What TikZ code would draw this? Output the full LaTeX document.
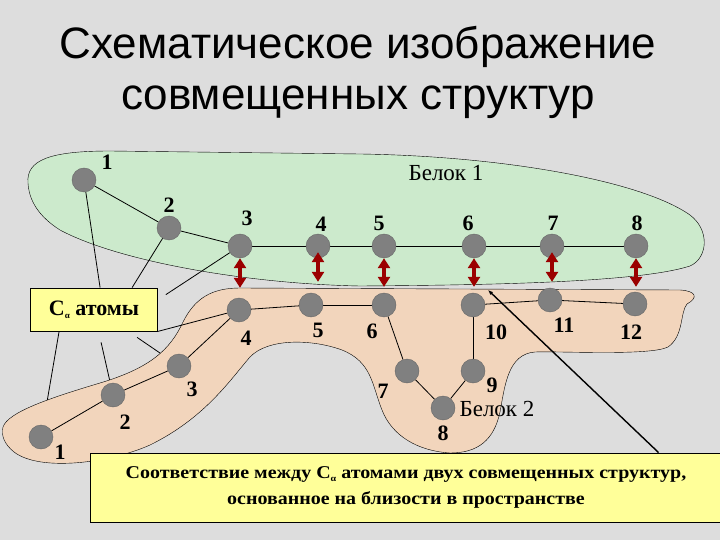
\documentclass[tikz,border=0pt]{standalone}
\usepackage{fontspec}
\setmainfont{Liberation Serif}
\newfontfamily\headfont{Liberation Sans}
\newfontfamily\notefont[FakeStretch=1.11]{Liberation Serif}
\usetikzlibrary{positioning, arrows.meta}

\definecolor{bgGray}{RGB}{221,221,221}
\definecolor{protA}{RGB}{204,234,204}
\definecolor{protB}{RGB}{242,213,188}
\definecolor{noteYellow}{RGB}{255,255,153}
\definecolor{linkRed}{RGB}{155,0,0}
\definecolor{atomGray}{RGB}{128,128,128}

\newcommand{\calpha}{C\raisebox{-3pt}{\fontsize{9}{9}\selectfont α}}

\pgfdeclarelayer{back}
\pgfdeclarelayer{hidden}
\pgfdeclarelayer{regions}
\pgfdeclarelayer{edges}
\pgfsetlayers{back,hidden,regions,edges,main}

\begin{document}
\begin{tikzpicture}[
    x=1pt, y=-1pt,
    atom/.style={circle, draw=black!60, fill=atomGray, minimum size=24pt, inner sep=0pt},
    num/.style={font=\fontsize{22}{22}\selectfont\bfseries, inner sep=0pt},
    prot/.style={font=\fontsize{23}{23}\selectfont, inner sep=0pt},
    chain/.style={black, line width=0.8pt},
    link/.style={{Triangle[width=12pt,length=10pt]}-{Triangle[width=12pt,length=10pt]},
                 line width=4pt, linkRed},
    note/.style={draw=black, line width=0.8pt, fill=noteYellow, align=center,
                 font=\notefont\fontsize{18}{26}\selectfont\bfseries},
    pointer/.style={-{Latex[length=5pt,width=4pt]}, line width=1.4pt},
  ]
    \begin{pgfonlayer}{back}
      \fill[bgGray] (0,0) rectangle (720,540);
    \end{pgfonlayer}
    \useasboundingbox (0,0) rectangle (720,540);

    % title
    \node[font=\headfont\fontsize{44}{51}\selectfont, align=center] (head) at (358,72)
      {Схематическое изображение\\совмещенных структур};

    % protein outlines
    \begin{pgfonlayer}{regions}
      \filldraw[draw=black, fill=protB] (3,427) .. controls (8,412) and (50,398) .. (100,383)
        .. controls (150,368) and (170,350) .. (183,322) .. controls (195,298) and (212,288) .. (240,288)
        -- (680,290) .. controls (697,291) and (698,298) .. (687,304)
        .. controls (680,312) and (684,336) .. (668,347) .. controls (650,356) and (560,351) .. (535,352)
        .. controls (508,354) and (505,385) .. (500,412) .. controls (494,440) and (478,453) .. (450,453)
        .. controls (418,451) and (392,436) .. (382,410) .. controls (372,385) and (372,362) .. (342,350)
        .. controls (312,339) and (268,338) .. (250,357) .. controls (230,380) and (205,418) .. (150,445)
        .. controls (110,463) and (40,472) .. (14,452) .. controls (4,444) and (1,435) .. cycle;
      \filldraw[draw=black, fill=protA] (28,183) .. controls (26,160) and (50,151) .. (110,151)
        -- (360,154) .. controls (500,156) and (640,180) .. (690,215)
        .. controls (710,230) and (708,258) .. (690,266) .. controls (640,282) and (500,285) .. (360,286)
        .. controls (250,284) and (120,262) .. (60,230) .. controls (38,216) and (29,200) .. cycle;
    \end{pgfonlayer}
    \node[prot] (nameA) at (446,173) {Белок 1};
    \node[prot] (nameB) at (497,409) {Белок 2};

    % atoms
    \foreach \i/\x/\y in {1/84/180, 2/169/228, 3/240/246, 4/318/246, 5/384/246,
                          6/474/246, 7/552/246, 8/636/246}
      \node[atom] (t\i) at (\x,\y) {};
    \foreach \i/\x/\y in {1/41/437, 2/113/395, 3/179/366, 4/239/310, 5/311/305, 6/384/305,
                          7/407/371, 8/443/408, 9/473/371, 10/473/305, 11/550/300, 12/635/304}
      \node[atom] (b\i) at (\x,\y) {};

    % atom numbers
    \foreach \i/\x/\y in {1/107/162, 2/169/205, 3/247/218, 4/321/224, 5/379/223,
                          6/468/223, 7/553/223, 8/637/223}
      \node[num] (tn\i) at (\x,\y) {\i};
    \foreach \i/\x/\y in {1/60/452, 2/125/422, 3/192/389, 4/246/338, 5/318/330, 6/372/331,
                          7/383/391, 8/443/433, 9/492/385, 10/496/332, 11/564/325, 12/631/332}
      \node[num] (bn\i) at (\x,\y) {\i};

    % backbones
    \begin{pgfonlayer}{edges}
      \foreach \a/\b in {1/2, 2/3, 3/4, 4/5, 5/6, 6/7, 7/8}
        \draw[chain] (t\a) -- (t\b);
      \foreach \a/\b in {1/2, 2/3, 3/4, 4/5, 5/6, 6/7, 7/8, 8/9, 9/10, 10/11, 11/12}
        \draw[chain] (b\a) -- (b\b);
    \end{pgfonlayer}

    % matched pairs
    \foreach \a/\b/\s/\e in {3/4/0/10, 4/5/-6/11, 5/6/0/6, 6/10/0/6, 7/11/-6/6, 8/12/0/5}
      \draw[link, shorten <=\s pt, shorten >=\e pt] (t\a.south) -- (t\a.south |- b\b.north);

    % C-alpha callout
    \node[note, font=\fontsize{22}{22}\selectfont\bfseries, minimum width=127pt, minimum height=43pt,
          inner sep=0pt] (ca) at (94,309.5) {\calpha\ атомы};
    \begin{pgfonlayer}{edges}
      \draw[chain] ([xshift=70pt]ca.north west) -- (t1);
      \draw[chain] ([xshift=102pt]ca.north west) -- (t2);
      \draw[chain] ([xshift=8pt,yshift=-7pt]ca.north east) -- (t3);
      \draw[chain] (ca.south east) -- (b4);
    \end{pgfonlayer}
    \begin{pgfonlayer}{hidden}
      \draw[chain] ([xshift=29pt]ca.south west) -- (b1);
      \draw[chain] ([xshift=71pt,yshift=-11pt]ca.south west) -- (b2);
      \draw[chain] ([xshift=107pt,yshift=-6pt]ca.south west) -- (b3);
    \end{pgfonlayer}

    % correspondence note
    \node[note, minimum width=632pt, minimum height=69pt, inner sep=0pt] (corr) at (406,487.5)
      {Соответствие между \calpha\ атомами двух совмещенных структур,\\
       основанное на близости в пространстве};
    \coordinate (gap) at (488,290);
    \begin{pgfonlayer}{edges}
      \draw[pointer] ([xshift=569pt]corr.north west) -- (gap);
    \end{pgfonlayer}
  \end{tikzpicture}
\end{document}
